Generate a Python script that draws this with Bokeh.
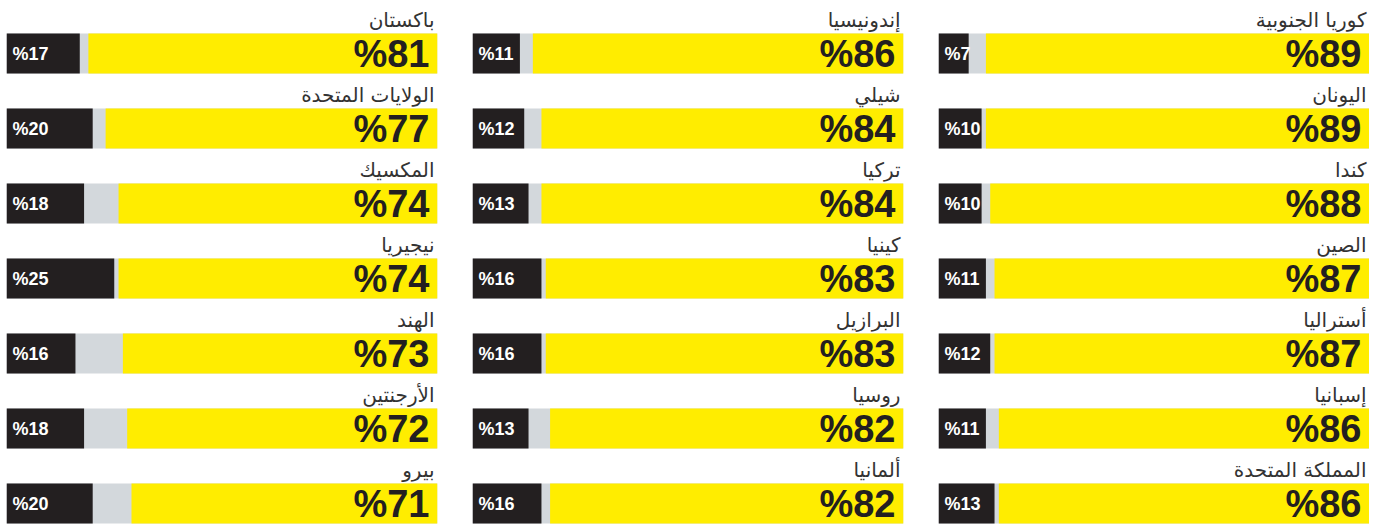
from bokeh.plotting import figure
from bokeh.layouts import row
from bokeh.models import Range1d, ColumnDataSource
from bokeh.core.properties import value
from bokeh.embed import file_html
from bokeh.resources import INLINE

# Column 1 (right on the page)
countries_1 = ["كوريا الجنوبية", "اليونان", "كندا", "الصين", "أستراليا", "إسبانيا", "المملكة المتحدة"]
yes_1 = [89, 89, 88, 87, 87, 86, 86]
no_1 = [7, 10, 10, 11, 12, 11, 13]

# Column 2 (middle)
countries_2 = ["إندونيسيا", "شيلي", "تركيا", "كينيا", "البرازيل", "روسيا", "ألمانيا"]
yes_2 = [86, 84, 84, 83, 83, 82, 82]
no_2 = [11, 12, 13, 16, 16, 13, 16]

# Column 3 (left on the page)
countries_3 = ["باكستان", "الولايات المتحدة", "المكسيك", "نيجيريا", "الهند", "الأرجنتين", "بيرو"]
yes_3 = [81, 77, 74, 74, 73, 72, 71]
no_3 = [17, 20, 18, 25, 16, 18, 20]

YELLOW = "#FFED00"
GREY = "#D3D8DC"
BLACK = "#231F20"
LABEL = "#333333"

TOP = 8
H = 517
PITCH = 75.0
BAR_TOP = 25.0
BAR_H = 40.0
FRAME_W = 431.0
NUM_FONT = "Liberation Sans"


def panel(countries, yes, no, border_left, border_right):
    n = len(countries)
    idx = list(range(n))
    yc = [i + (BAR_TOP + BAR_H / 2) / PITCH for i in idx]
    ylab = [i + (BAR_TOP - 14) / PITCH for i in idx]
    src = ColumnDataSource(dict(
        country=countries,
        yes=yes,
        no=no,
        yes_left=[100 - v for v in yes],
        yc=yc,
        ylab=ylab,
        yes_txt=["%" + str(v) for v in yes],
        no_txt=["%" + str(v) for v in no],
    ))
    p = figure(width=int(FRAME_W) + border_left + border_right, height=H + TOP,
               x_range=Range1d(0, 100), y_range=Range1d(H / PITCH, 0),
               toolbar_location=None, output_backend="svg",
               min_border_left=border_left, min_border_right=border_right,
               min_border_top=TOP, min_border_bottom=0)
    p.axis.visible = False
    p.grid.visible = False
    p.outline_line_color = None
    p.background_fill_color = "white"
    p.border_fill_color = "white"
    h = BAR_H / PITCH
    # grey full background
    p.hbar(y="yc", left=0, right=100, height=h, source=src, fill_color=GREY, line_color=None)
    # yellow (yes) from right
    p.hbar(y="yc", left="yes_left", right=100, height=h, source=src, fill_color=YELLOW, line_color=None)
    # black (no) from left
    p.hbar(y="yc", left=0, right="no", height=h, source=src, fill_color=BLACK, line_color=None)
    px = 100.0 / FRAME_W
    p.text(x=100 - 3 * px, y="ylab", text="country", source=src,
           text_align="right", text_baseline="alphabetic",
           text_font=value("DejaVu Sans"), text_font_size="20px", text_color=LABEL)
    p.text(x=100 - 8 * px, y="yc", text="yes_txt", source=src,
           text_align="right", text_baseline="middle",
           text_font=value(NUM_FONT), text_font_style="bold",
           text_font_size="38px", text_color=BLACK)
    p.text(x=6 * px, y="yc", text="no_txt", source=src,
           text_align="left", text_baseline="middle",
           text_font=value(NUM_FONT), text_font_style="bold",
           text_font_size="18px", text_color="white")
    return p


p3 = panel(countries_3, yes_3, no_3, 6, 35)
p2 = panel(countries_2, yes_2, no_2, 0, 35)
p1 = panel(countries_1, yes_1, no_1, 0, 0)

layout = row(p3, p2, p1, spacing=0)
open("out.html", "w").write(file_html(layout, INLINE))
